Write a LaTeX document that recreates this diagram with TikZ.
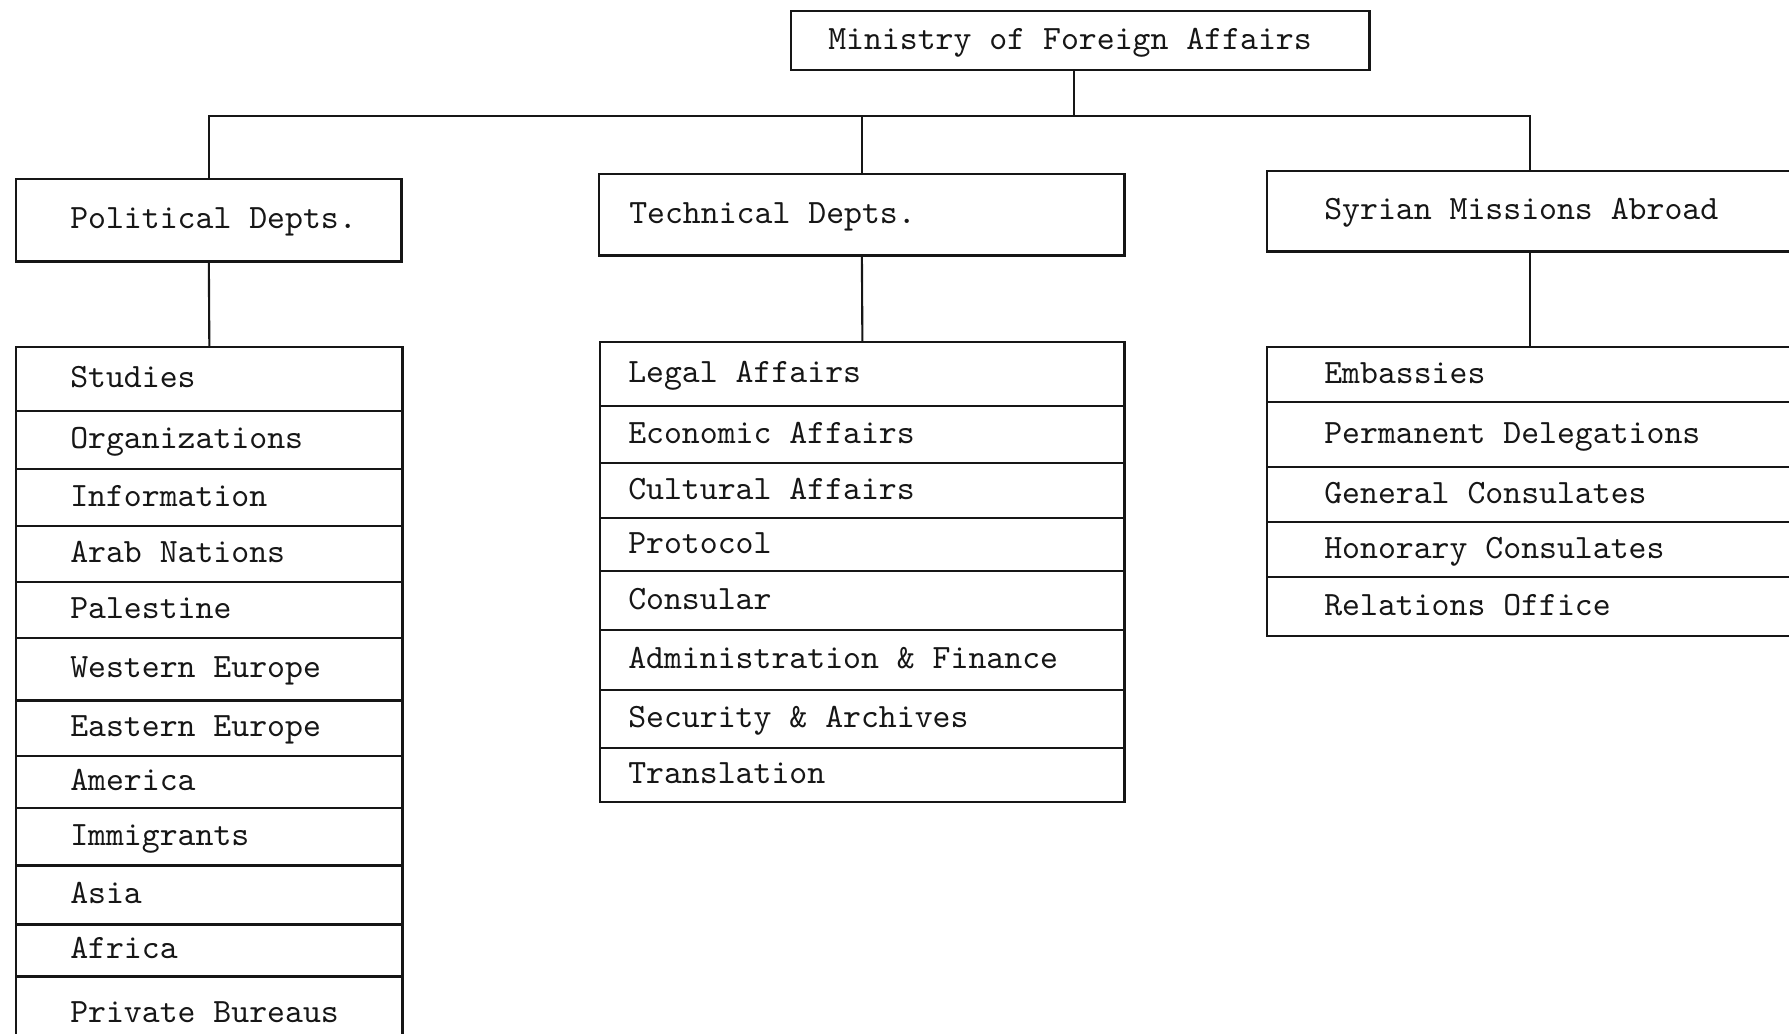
\documentclass[tikz,border=0pt]{standalone}
\usepackage{tikz}
\usetikzlibrary{calc}
\definecolor{ink}{RGB}{22,22,22}
\newcommand\monofont{\ttfamily\fontsize{9.7pt}{11pt}\selectfont}
\tikzset{
  mbox/.style={draw=ink,line width=0.7pt,anchor=north west,align=left,
    inner xsep=0pt,inner ysep=0pt,text width=#1,text=ink,
    text height=1.5ex,text depth=0.4ex,font=\monofont},
  lead/.style={execute at begin node={\spaceskip=0.525em\relax
    \xspaceskip=0.525em\relax\hspace*{#1}}},
  mlink/.style={ink,line width=0.6pt},
}

\begin{document}
\begin{tikzpicture}[x=0.01cm,y=-0.01cm]
  \useasboundingbox (0,0) rectangle (1789,1034);
  \clip (0,0) rectangle (1789,1034);
  \node[mbox=5.78cm,lead=0.37cm,minimum height=0.59cm] (mfa) at (790,10)
    {Ministry of Foreign Affairs};
  \node[mbox=3.85cm,lead=0.54cm,minimum height=0.82cm] (pol) at (15,178)
    {Political Depts.};
  \node[mbox=5.25cm,lead=0.30cm,minimum height=0.81cm] (tec) at (598,173)
    {Technical Depts.};
  \node[mbox=5.26cm,lead=0.57cm,minimum height=0.80cm] (syr) at (1266,170)
    {Syrian Missions Abroad};
  \foreach \n/\lab/\top/\bot in {1/Studies/346/410,2/Organizations/410/468,
      3/Information/468/525,4/Arab Nations/525/581,5/Palestine/581/637,
      6/Western Europe/637/699,7/Eastern Europe/699/755,8/America/755/807,
      9/Immigrants/807/864,10/Asia/864/923,11/Africa/923/975,
      12/Private Bureaus/975/1050} {
    \pgfmathsetmacro{\h}{(\bot-\top)/100}
    \node[mbox=3.86cm,lead=0.54cm,minimum height=\h cm] (pol\n) at (15,\top) {\lab};}
  \foreach \n/\lab/\top/\bot in {1/Legal Affairs/341/405,2/Economic Affairs/405/462,
      3/Cultural Affairs/462/517,4/Protocol/517/570,5/Consular/570/629,
      6/Administration \& Finance/629/689,7/Security \& Archives/689/747,
      8/Translation/747/801} {
    \pgfmathsetmacro{\h}{(\bot-\top)/100}
    \node[mbox=5.24cm,lead=0.28cm,minimum height=\h cm] (tec\n) at (599,\top) {\lab};}
  \foreach \n/\lab/\top/\bot in {1/Embassies/346/401,2/Permanent Delegations/401/466,
      3/General Consulates/466/521,4/Honorary Consulates/521/576,
      5/Relations Office/576/635} {
    \pgfmathsetmacro{\h}{(\bot-\top)/100}
    \node[mbox=5.26cm,lead=0.57cm,minimum height=\h cm] (syr\n) at (1266,\top) {\lab};}
  \coordinate (bus) at (0,116);
  \draw[mlink] ($(mfa.south)+(-6,0)$) -- ($(mfa.south |- bus)+(-6,0)$);
  \draw[mlink] (pol.north) -- (pol.north |- bus) -- (syr.north |- bus) -- (syr.north);
  \draw[mlink] (tec.north) -- (tec.north |- bus);
  \draw[mlink] (pol.south) -- (pol1.north);
  \draw[mlink] (tec.south) -- (tec1.north);
  \draw[mlink] (syr.south) -- (syr1.north);
\end{tikzpicture}
\end{document}
